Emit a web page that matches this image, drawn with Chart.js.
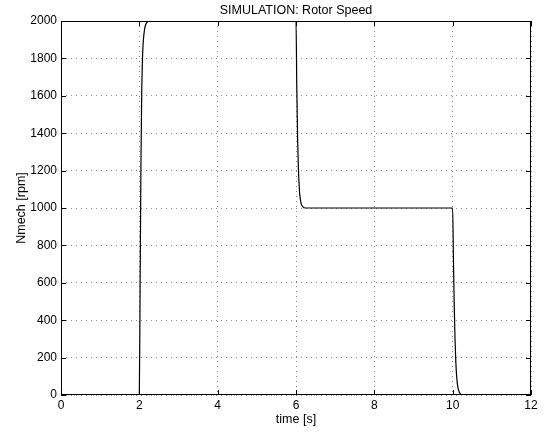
<!DOCTYPE html>
<html>
<head>
<meta charset="utf-8">
<script src="https://cdn.jsdelivr.net/npm/chart.js@4/dist/chart.umd.min.js"></script>
<style>
  html, body { margin: 0; padding: 0; background: #fff; }
  #wrap { width: 552px; height: 432px; }
</style>
</head>
<body>
<div id="wrap"><canvas id="rotorChart" width="552" height="432"></canvas></div>
<script>
// --- DATA ---
const timeS = [0, 2.0, 2.02, 2.04, 2.06, 2.08, 2.1, 2.13, 2.17, 2.22, 2.3,
               6.0, 6.02, 6.04, 6.06, 6.08, 6.1, 6.13, 6.17, 6.25,
               10.0, 10.02, 10.04, 10.06, 10.08, 10.1, 10.13, 10.17, 10.25, 12];
const nMech = [0, 0, 600, 1200, 1600, 1800, 1890, 1950, 1985, 1997, 2000,
               2000, 1650, 1380, 1220, 1120, 1065, 1025, 1008, 1000,
               1000, 720, 480, 300, 180, 105, 45, 15, 0, 0];
const xTicks = [0, 2, 4, 6, 8, 10, 12];
const yTicks = [0, 200, 400, 600, 800, 1000, 1200, 1400, 1600, 1800, 2000];

const FONT = 'Helvetica, "Liberation Sans", Arial, sans-serif';

// box round the axes plus MATLAB style inward tick marks
const axesBox = {
    id: 'axesBox',
    afterDraw(chart) {
        const { ctx, chartArea: a, scales: { x, y } } = chart;
        ctx.save();
        ctx.strokeStyle = '#000';
        ctx.lineWidth = 1;
        ctx.strokeRect(a.left + 0.5, a.top + 0.5, a.right - a.left - 1, a.bottom - a.top - 1);
        ctx.beginPath();
        xTicks.forEach(v => {
            const px = Math.round(x.getPixelForValue(v)) + 0.5;
            ctx.moveTo(px, a.bottom); ctx.lineTo(px, a.bottom - 5);
            ctx.moveTo(px, a.top); ctx.lineTo(px, a.top + 5);
        });
        yTicks.forEach(v => {
            const py = Math.round(y.getPixelForValue(v)) + 0.5;
            ctx.moveTo(a.left, py); ctx.lineTo(a.left + 5, py);
            ctx.moveTo(a.right, py); ctx.lineTo(a.right - 5, py);
        });
        ctx.stroke();
        ctx.restore();
    }
};

new Chart(document.getElementById('rotorChart'), {
    type: 'line',
    data: {
        datasets: [{
            label: 'Nmech',
            data: timeS.map((t, i) => ({ x: t, y: nMech[i] })),
            borderColor: '#000',
            borderWidth: 1.2,
            pointRadius: 0,
            fill: false,
            cubicInterpolationMode: 'monotone'
        }]
    },
    plugins: [axesBox],
    options: {
        responsive: false,
        animation: false,
        layout: { padding: { top: 0, right: 21, left: 0, bottom: 0 } },
        plugins: {
            legend: { display: false },
            tooltip: { enabled: false },
            title: {
                display: true,
                text: 'SIMULATION: Rotor Speed',
                fullSize: false,
                color: '#000',
                font: { family: FONT, size: 12.5, weight: 'normal' },
                padding: { top: 3, bottom: 3 }
            }
        },
        scales: {
            x: {
                type: 'linear', min: 0, max: 12,
                afterBuildTicks: s => { s.ticks = xTicks.map(v => ({ value: v })); },
                afterFit: s => { s.height = 37; },
                grid: { color: '#8a8a8a', lineWidth: 1, drawTicks: false },
                border: { display: false, dash: [1, 4] },
                ticks: { color: '#000', padding: 3, maxRotation: 0, font: { family: FONT, size: 12 },
                         callback: v => String(v) },
                title: { display: true, text: 'time [s]', color: '#000',
                         font: { family: FONT, size: 12.5 }, padding: { top: 0, bottom: 4.5 } }
            },
            y: {
                type: 'linear', min: 0, max: 2000,
                afterBuildTicks: s => { s.ticks = yTicks.map(v => ({ value: v })); },
                afterFit: s => { s.width = 61; },
                grid: { color: '#8a8a8a', lineWidth: 1, drawTicks: false },
                border: { display: false, dash: [1, 4] },
                ticks: { color: '#000', padding: 4, font: { family: FONT, size: 12 },
                         callback: v => String(v) },
                title: { display: true, text: 'Nmech [rpm]', color: '#000',
                         font: { family: FONT, size: 12.5 }, padding: { top: 14.5, bottom: 0 } }
            }
        }
    }
});
</script>
</body>
</html>
